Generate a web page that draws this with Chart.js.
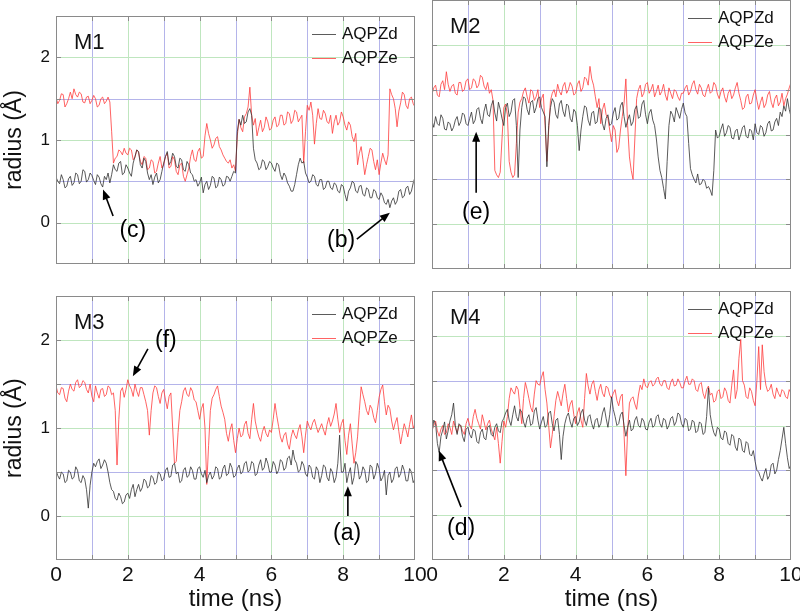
<!DOCTYPE html>
<html>
<head>
<meta charset="utf-8">
<script src="https://cdn.jsdelivr.net/npm/chart.js@4.4.0/dist/chart.umd.min.js"></script>
<style>
  html, body { margin: 0; padding: 0; background: #fff; }
  body { width: 800px; height: 615px; overflow: hidden; position: relative; }
  canvas { position: absolute; }
</style>
</head>
<body>
<canvas id="m1" width="420" height="280" style="left:0;top:0"></canvas>
<canvas id="m2" width="400" height="280" style="left:420px;top:0"></canvas>
<canvas id="m3" width="440" height="335" style="left:0;top:280px"></canvas>
<canvas id="m4" width="400" height="335" style="left:420px;top:280px"></canvas>
<script>
// samples every 0.05 ns, 0 .. 10 ns (one row = one ns)
var timeStep = 0.05;
var xTickLabels = [0, 2, 4, 6, 8, 10];
var yTickLabels = [0, 1, 2];
var seriesNames = ['AQPZd', 'AQPZe'];

// M1
var m1Zd = [
  0.55,0.50,0.47,0.58,0.52,0.42,0.44,0.53,0.56,0.45,0.48,0.60,0.58,0.47,0.50,0.64,0.62,0.49,0.52,0.60,
  0.57,0.51,0.46,0.58,0.55,0.47,0.43,0.56,0.52,0.60,0.48,0.58,0.70,0.64,0.62,0.72,0.74,0.58,0.60,0.70,
  0.66,0.60,0.56,0.72,0.80,0.88,0.86,0.70,0.66,0.78,0.74,0.60,0.52,0.58,0.46,0.55,0.60,0.48,0.52,0.62,
  0.72,0.80,0.86,0.70,0.74,0.84,0.80,0.68,0.66,0.78,0.76,0.64,0.62,0.74,0.70,0.60,0.58,0.50,0.52,0.44,
  0.48,0.55,0.36,0.46,0.50,0.40,0.45,0.56,0.54,0.42,0.44,0.55,0.52,0.44,0.46,0.56,0.55,0.50,0.56,0.62,
  0.60,1.10,1.25,1.18,1.30,1.20,1.22,1.34,1.38,1.30,0.90,0.76,0.72,0.64,0.66,0.76,0.74,0.64,0.68,0.74,
  0.72,0.66,0.62,0.72,0.70,0.58,0.52,0.60,0.56,0.48,0.44,0.38,0.38,0.46,0.58,0.70,0.78,0.72,0.74,0.60,
  0.55,0.48,0.50,0.58,0.56,0.46,0.44,0.52,0.52,0.40,0.42,0.50,0.50,0.42,0.40,0.48,0.46,0.38,0.36,0.46,
  0.44,0.34,0.26,0.38,0.42,0.50,0.48,0.38,0.36,0.44,0.45,0.34,0.32,0.42,0.40,0.30,0.30,0.40,0.38,0.30,
  0.28,0.36,0.32,0.24,0.22,0.28,0.18,0.26,0.30,0.22,0.26,0.38,0.40,0.30,0.32,0.42,0.44,0.34,0.38,0.48,
  0.55];
var m1Ze = [
  1.52,1.44,1.48,1.56,1.55,1.40,1.44,1.50,1.58,1.50,1.62,1.55,1.52,1.58,1.56,1.46,1.45,1.52,1.53,1.44,
  1.48,1.54,1.50,1.40,1.42,1.50,1.52,1.44,1.47,1.52,1.46,1.10,0.72,0.78,0.80,0.88,0.86,0.82,0.90,0.84,
  0.82,0.90,0.88,0.76,0.79,0.88,0.85,0.74,0.70,0.80,0.78,0.64,0.66,0.76,0.74,0.60,0.62,0.72,0.80,0.66,
  0.70,0.80,0.84,0.66,0.68,0.80,0.76,0.62,0.58,0.70,0.72,0.56,0.50,0.58,0.66,0.80,0.88,0.76,0.74,0.86,
  0.90,0.78,0.80,1.05,1.20,1.08,1.00,0.90,0.94,1.02,1.04,0.92,0.88,0.82,0.78,0.74,0.72,0.76,0.66,0.70,
  0.62,1.05,1.25,1.15,1.10,1.28,1.32,1.40,1.64,1.30,1.18,1.26,1.05,1.15,1.24,1.10,1.15,1.28,1.22,1.12,
  1.14,1.24,1.28,1.16,1.18,1.30,1.30,1.18,1.20,1.34,1.32,1.20,1.24,1.36,1.34,1.22,1.26,1.30,0.72,1.10,
  1.42,1.36,1.46,1.30,0.95,1.20,1.38,1.26,1.25,1.36,1.32,1.22,1.20,1.30,1.08,1.22,1.30,1.18,1.22,1.34,
  1.28,1.18,1.12,1.22,1.18,1.04,0.98,1.08,0.70,0.84,0.92,0.76,0.58,0.70,0.80,0.90,0.88,0.74,0.64,0.76,
  0.58,0.72,0.84,0.76,0.70,0.82,1.62,1.55,1.50,1.38,1.16,1.35,1.45,1.58,1.55,1.42,1.38,1.50,1.52,1.44,
  1.40];

// M2
var m2Zd = [
  1.15,1.08,1.20,1.12,1.10,1.22,1.18,1.06,1.05,1.14,1.12,1.04,1.08,1.16,1.20,1.10,1.14,1.24,1.22,1.12,
  1.10,1.18,1.25,1.12,1.16,1.28,1.30,1.18,1.12,1.26,1.34,1.22,1.20,1.32,1.38,1.24,1.15,1.36,1.28,1.18,
  1.10,1.30,1.35,1.20,1.25,1.38,1.40,1.10,0.52,1.05,1.30,1.42,1.40,1.28,1.22,1.36,1.38,1.24,1.30,1.40,
  1.42,1.30,1.25,1.20,0.64,1.10,1.30,1.40,1.36,1.22,1.18,1.34,1.38,1.26,1.20,1.34,1.32,1.18,1.14,1.28,
  1.25,1.10,0.82,1.05,1.20,1.32,1.30,1.16,1.10,1.24,1.26,1.12,1.14,1.30,1.28,1.12,1.05,1.18,1.22,1.10,
  1.12,1.24,1.30,1.16,1.18,1.32,1.36,1.20,1.08,1.16,1.22,1.10,1.14,1.28,1.32,1.18,1.20,1.34,1.38,1.22,
  1.12,1.24,1.28,1.16,1.10,0.95,0.75,0.60,0.52,0.40,0.28,0.70,1.10,1.26,1.22,1.14,1.30,1.24,1.18,1.28,
  1.35,1.24,1.20,0.90,0.62,0.55,0.50,0.46,0.56,0.44,0.45,0.50,0.48,0.40,0.42,0.38,0.32,0.60,1.05,0.96,
  0.98,1.06,1.12,0.98,1.02,1.10,1.08,0.96,0.95,1.04,1.06,0.94,1.00,1.08,1.10,0.98,0.96,1.06,1.04,0.94,
  1.12,1.02,1.00,1.10,1.08,0.98,1.02,1.12,1.15,1.04,1.05,1.14,1.18,1.10,1.25,1.20,1.32,1.26,1.40,1.28,
  1.20];
var m2Ze = [
  1.45,1.52,1.55,1.44,1.42,1.56,1.60,1.50,1.70,1.56,1.48,1.54,1.56,1.46,1.44,1.58,1.58,1.48,1.50,1.60,
  1.62,1.50,1.52,1.62,1.60,1.52,1.55,1.66,1.64,1.54,1.50,1.58,1.46,1.50,1.38,0.60,0.55,0.52,0.58,0.95,
  1.30,1.34,1.22,0.70,0.58,0.52,0.55,0.90,1.25,1.36,1.40,1.48,1.52,1.42,1.35,1.50,1.48,1.38,1.42,1.50,
  1.30,1.40,1.45,1.10,0.70,1.05,1.38,1.46,1.50,1.42,1.56,1.48,1.44,1.54,1.58,1.46,1.50,1.58,1.54,1.44,
  1.46,1.56,1.60,1.48,1.52,1.64,1.62,1.55,1.76,1.62,1.55,1.42,1.30,1.40,1.12,1.28,1.35,1.22,1.18,1.05,
  0.92,1.10,1.05,0.80,0.85,1.05,1.20,1.35,1.62,1.10,0.75,0.60,0.50,0.95,1.40,1.50,1.55,1.42,1.46,1.56,
  1.58,1.46,1.50,1.56,1.42,1.48,1.55,1.44,1.48,1.56,1.44,1.38,1.52,1.46,1.40,1.50,1.48,1.42,1.38,1.46,
  1.46,1.52,1.55,1.44,1.48,1.56,1.60,1.50,1.45,1.56,1.52,1.44,1.42,1.50,1.56,1.46,1.48,1.58,1.55,1.45,
  1.40,1.48,1.52,1.42,1.36,1.46,1.50,1.40,1.44,1.52,1.58,1.46,1.38,1.28,1.30,1.42,1.45,1.34,1.35,1.44,
  1.50,1.38,1.28,1.36,1.42,1.30,1.34,1.44,1.48,1.36,1.30,1.40,1.44,1.32,1.36,1.46,1.32,1.40,1.45,1.52,
  1.58];

// M3
var m3Zd = [
  0.52,0.46,0.42,0.50,0.48,0.38,0.40,0.52,0.50,0.42,0.44,0.56,0.52,0.40,0.38,0.46,0.42,0.30,0.09,0.35,
  0.50,0.60,0.56,0.62,0.65,0.54,0.58,0.64,0.60,0.50,0.38,0.30,0.28,0.20,0.18,0.26,0.22,0.14,0.16,0.24,
  0.26,0.20,0.30,0.36,0.22,0.30,0.36,0.28,0.32,0.42,0.40,0.32,0.34,0.46,0.44,0.36,0.38,0.50,0.48,0.40,
  0.42,0.52,0.55,0.44,0.45,0.58,0.60,0.48,0.50,0.38,0.40,0.52,0.55,0.44,0.46,0.56,0.52,0.42,0.42,0.54,
  0.56,0.48,0.44,0.52,0.38,0.46,0.50,0.42,0.46,0.56,0.54,0.42,0.44,0.54,0.58,0.46,0.48,0.60,0.55,0.44,
  0.46,0.54,0.58,0.48,0.50,0.60,0.62,0.50,0.52,0.62,0.60,0.46,0.48,0.58,0.64,0.52,0.55,0.66,0.60,0.50,
  0.50,0.62,0.58,0.48,0.52,0.64,0.62,0.52,0.55,0.66,0.68,0.58,0.75,0.64,0.60,0.50,0.52,0.62,0.58,0.48,
  0.45,0.58,0.55,0.44,0.42,0.56,0.52,0.38,0.46,0.58,0.56,0.44,0.40,0.54,0.50,0.38,0.44,0.60,0.92,0.50,
  0.50,0.60,0.38,0.48,0.55,0.36,0.44,0.62,0.58,0.42,0.46,0.56,0.52,0.38,0.40,0.58,0.56,0.42,0.48,0.60,
  0.54,0.40,0.44,0.52,0.24,0.46,0.50,0.38,0.42,0.54,0.56,0.44,0.48,0.58,0.52,0.40,0.40,0.54,0.50,0.38,
  0.42];
var m3Ze = [
  1.48,1.40,1.38,1.46,1.45,1.34,1.30,1.42,1.50,1.44,1.42,1.52,1.55,1.46,1.48,1.54,1.52,1.44,1.40,1.50,
  1.36,1.30,1.48,1.40,1.34,1.44,1.45,1.36,1.38,1.48,1.46,1.38,1.40,1.20,0.58,1.10,1.42,1.46,1.35,1.44,
  1.55,1.48,1.44,1.36,1.50,1.42,1.36,1.46,1.46,1.38,1.30,1.20,0.92,1.20,1.40,1.48,1.46,1.36,1.28,1.40,
  1.44,1.32,1.22,1.36,1.40,1.00,0.60,0.62,0.95,1.20,1.30,1.42,1.46,1.38,1.36,1.46,1.42,1.32,1.30,1.20,
  1.10,1.22,1.28,1.00,0.36,0.80,1.20,1.34,1.38,1.44,1.48,1.36,1.25,1.18,1.10,0.94,0.85,0.98,1.05,0.86,
  0.72,0.88,1.00,0.90,0.92,1.04,1.08,0.94,0.88,1.10,1.28,1.08,0.98,0.90,0.85,0.96,1.02,0.94,0.90,0.98,
  0.95,1.10,1.28,1.14,1.02,0.90,0.84,0.92,0.95,0.82,0.76,0.90,0.98,0.92,0.88,0.98,1.04,0.90,0.72,0.92,
  1.08,1.02,0.98,1.06,1.10,1.02,0.95,1.00,1.05,0.98,0.92,1.04,1.12,1.02,1.08,1.16,1.28,1.10,0.95,1.05,
  1.10,0.86,0.70,0.92,1.05,0.82,0.60,0.72,0.90,1.20,1.47,1.38,1.30,1.20,1.15,1.26,1.22,1.12,1.06,1.20,
  1.35,1.44,1.49,1.30,1.15,1.26,1.22,1.08,0.98,1.06,1.12,0.96,0.82,0.94,1.05,0.98,0.90,1.04,1.15,1.00,
  1.05];

// M4
var m4Zd = [
  0.92,1.06,1.02,0.80,0.70,0.88,0.95,1.04,0.85,0.94,1.05,1.12,1.25,1.00,0.90,1.02,1.00,0.88,0.82,0.96,
  0.98,0.90,0.86,0.96,0.94,0.82,0.80,0.92,0.96,0.86,0.84,0.98,1.00,0.90,0.88,0.98,1.02,0.94,0.92,1.04,
  1.08,1.14,1.18,1.06,1.00,1.12,1.22,1.10,1.05,1.18,1.15,1.04,0.98,1.08,1.12,1.00,1.02,1.16,1.20,1.06,
  0.96,1.04,1.10,0.98,1.00,1.14,1.16,1.02,0.94,1.06,1.08,0.90,0.62,0.88,1.02,1.10,1.14,1.04,0.98,1.08,
  1.10,1.00,1.04,1.14,1.18,1.06,1.00,1.10,1.12,1.02,0.96,1.06,1.08,0.98,1.02,1.14,1.20,1.08,0.98,1.12,
  1.32,1.18,1.10,1.00,1.02,1.12,1.15,1.00,0.88,0.98,1.06,0.94,0.96,1.06,1.10,1.00,0.98,1.08,1.05,0.96,
  0.95,1.04,1.08,0.98,1.00,1.10,1.12,1.02,0.98,1.08,1.06,0.96,1.00,1.08,1.10,1.00,1.04,1.14,1.12,1.02,
  0.98,1.08,1.06,0.94,0.96,1.06,1.04,0.92,0.94,1.04,1.02,0.90,0.92,1.10,1.42,1.12,1.00,0.92,0.88,0.98,
  0.96,0.86,0.84,0.94,0.92,0.80,0.78,0.90,0.88,0.76,0.72,0.86,0.84,0.72,0.70,0.82,0.80,0.68,0.66,0.72,
  0.60,0.50,0.48,0.42,0.38,0.46,0.52,0.40,0.44,0.56,0.58,0.46,0.50,0.62,0.72,0.85,0.98,0.80,0.64,0.52,
  0.56];
var m4Ze = [
  0.95,1.00,1.05,0.94,0.88,0.96,1.00,0.90,0.92,1.02,0.98,0.90,1.05,0.98,0.92,1.00,1.00,0.94,0.90,1.02,
  1.08,1.00,0.96,1.10,1.18,1.08,1.02,0.96,1.12,1.04,0.95,1.02,1.06,0.96,0.90,0.84,0.98,0.80,0.58,0.82,
  1.05,0.98,1.10,1.30,1.42,1.38,1.35,1.44,1.40,1.20,1.02,1.30,1.48,1.40,1.30,1.20,1.15,1.35,1.50,1.46,
  1.45,1.54,1.60,1.40,1.25,1.00,0.75,0.90,1.10,1.28,1.38,1.30,1.22,1.36,1.46,1.30,1.15,1.24,1.28,1.12,
  1.02,1.14,1.20,1.06,0.98,1.30,1.58,1.44,1.35,1.46,1.50,1.38,1.28,1.40,1.46,1.36,1.32,1.44,1.42,1.34,
  1.30,1.36,1.40,1.28,1.22,1.32,1.35,0.90,0.44,0.95,1.25,1.30,1.32,1.24,1.18,1.34,1.45,1.40,1.52,1.44,
  1.42,1.48,1.50,1.44,1.46,1.52,1.54,1.46,1.44,1.50,1.50,1.42,1.40,1.48,1.52,1.44,1.45,1.52,1.48,1.42,
  1.42,1.50,1.55,1.46,1.46,1.52,1.50,1.40,1.38,1.46,1.48,1.36,1.30,1.40,1.44,1.34,1.36,1.26,1.28,1.38,
  1.40,1.30,1.32,1.42,1.38,1.28,1.25,1.45,1.62,1.30,1.40,1.75,1.96,1.50,1.45,1.32,1.30,1.42,1.38,1.28,
  1.22,1.50,1.88,1.40,1.90,1.60,1.45,1.38,1.40,1.46,1.35,1.30,1.42,1.36,1.32,1.40,1.38,1.32,1.30,1.40,
  1.36];

var FONT = "'Liberation Sans', Arial, sans-serif";
var GREEN = '#bfe6bf';
var BLUE = '#b4b4ea';
var FRAME = '#8a8a8a';
var ZD_COLOR = 'rgba(50,50,50,0.8)';
var ZE_COLOR = 'rgba(255,60,60,0.8)';
var seriesColors = [ZD_COLOR, ZE_COLOR];

function toPoints(arr) {
  return arr.map(function (v, i) {
    return { x: Math.round(i * timeStep * 100) / 100, y: v };
  });
}

function near(a, b) { return Math.abs(a - b) < 1e-6; }

function drawArrow(c, x1, y1, x2, y2) {
  var ang = Math.atan2(y2 - y1, x2 - x1), L = 10, W = 4;
  c.beginPath();
  c.moveTo(x1, y1);
  c.lineTo(x2 - L * 0.7 * Math.cos(ang), y2 - L * 0.7 * Math.sin(ang));
  c.stroke();
  c.beginPath();
  c.moveTo(x2, y2);
  c.lineTo(x2 - L * Math.cos(ang) + W * Math.sin(ang), y2 - L * Math.sin(ang) - W * Math.cos(ang));
  c.lineTo(x2 - L * Math.cos(ang) - W * Math.sin(ang), y2 - L * Math.sin(ang) + W * Math.cos(ang));
  c.closePath();
  c.fill();
}

// coloured grid under the data; frame, inner ticks, name, legend and notes on top
var panelDecor = {
  id: 'panelDecor',
  beforeDatasetsDraw: function (chart) {
    var c = chart.ctx, a = chart.chartArea, xs = chart.scales.x, ys = chart.scales.y;
    c.save();
    c.lineWidth = 1;
    xs.ticks.forEach(function (tk) {
      var v = tk.value;
      if (near(v, xs.min) || near(v, xs.max)) return;
      var px = Math.round(xs.getPixelForValue(v)) + 0.5;
      c.strokeStyle = Math.round(v) % 2 === 0 ? GREEN : BLUE;
      c.beginPath(); c.moveTo(px, a.top); c.lineTo(px, a.bottom); c.stroke();
    });
    ys.ticks.forEach(function (tk) {
      var v = tk.value;
      if (near(v, ys.min) || near(v, ys.max)) return;
      var py = Math.round(ys.getPixelForValue(v)) + 0.5;
      c.strokeStyle = near(v, Math.round(v)) ? GREEN : BLUE;
      c.beginPath(); c.moveTo(a.left, py); c.lineTo(a.right, py); c.stroke();
    });
    c.restore();
  },
  afterDatasetsDraw: function (chart, args, opts) {
    var c = chart.ctx, a = chart.chartArea, xs = chart.scales.x, ys = chart.scales.y;
    var L = Math.round(a.left), T = Math.round(a.top), R = Math.round(a.right), B = Math.round(a.bottom);
    c.save();
    c.strokeStyle = FRAME;
    c.lineWidth = 1;
    c.strokeRect(L + 0.5, T + 0.5, R - L - 1, B - T - 1);
    c.beginPath();
    for (var t = 1; t < 10; t++) {
      var px = Math.round(xs.getPixelForValue(t)) + 0.5;
      c.moveTo(px, T); c.lineTo(px, T + 5);
      c.moveTo(px, B); c.lineTo(px, B - 5);
    }
    for (var v = 0; v <= 2; v += 0.5) {
      var py = Math.round(ys.getPixelForValue(v)) + 0.5;
      c.moveTo(L, py); c.lineTo(L + 5, py);
      c.moveTo(R, py); c.lineTo(R - 5, py);
    }
    c.stroke();

    // panel name
    c.fillStyle = '#111';
    c.font = '22px ' + FONT;
    c.textAlign = 'left';
    c.textBaseline = 'middle';
    c.fillText(opts.name, L + 18, T + 27);

    // legend
    c.font = '17px ' + FONT;
    seriesNames.forEach(function (name, i) {
      var ly = T + 18 + 24 * i + 0.5;
      c.strokeStyle = seriesColors[i];
      c.lineWidth = 1;
      c.beginPath();
      c.moveTo(R - 103, ly); c.lineTo(R - 79, ly);
      c.stroke();
      c.fillStyle = '#111';
      c.fillText(name, R - 73, ly);
    });

    // notes
    c.strokeStyle = '#000';
    c.fillStyle = '#000';
    c.lineWidth = 1.6;
    c.font = '23px ' + FONT;
    c.textAlign = 'center';
    (opts.notes || []).forEach(function (n) {
      c.fillText(n.text, xs.getPixelForValue(n.x), ys.getPixelForValue(n.y));
      drawArrow(c, xs.getPixelForValue(n.fromX), ys.getPixelForValue(n.fromY),
        xs.getPixelForValue(n.toX), ys.getPixelForValue(n.toY));
    });
    c.restore();
  }
};

function makePanel(id, p) {
  return new Chart(document.getElementById(id), {
    type: 'line',
    data: {
      datasets: [{
        label: seriesNames[0],
        data: toPoints(p.zd),
        borderColor: seriesColors[0],
        borderWidth: 1,
        pointRadius: 0,
        tension: 0
      }, {
        label: seriesNames[1],
        data: toPoints(p.ze),
        borderColor: seriesColors[1],
        borderWidth: 1,
        pointRadius: 0,
        tension: 0
      }]
    },
    options: {
      responsive: false,
      animation: false,
      devicePixelRatio: 1,
      layout: { padding: p.pad },
      plugins: {
        legend: { display: false },
        tooltip: { enabled: false },
        panelDecor: { name: p.name, notes: p.notes }
      },
      scales: {
        x: {
          type: 'linear',
          min: 0,
          max: 10,
          border: { display: false },
          grid: { display: false, drawTicks: false },
          ticks: {
            display: p.showX,
            stepSize: 1,
            autoSkip: false,
            maxRotation: 0,
            padding: 3,
            color: '#111',
            font: { size: 21, family: FONT },
            callback: function (v) { return xTickLabels.indexOf(v) >= 0 ? String(v) : ''; }
          },
          title: {
            display: p.showX,
            text: 'time (ns)',
            color: '#111',
            font: { size: 24, family: FONT },
            padding: { top: 0, bottom: 1 }
          },
          afterFit: function (s) { s.height = p.xh; }
        },
        y: {
          min: -0.5,
          max: 2.5,
          border: { display: false },
          grid: { display: false, drawTicks: false },
          ticks: {
            display: p.showY,
            stepSize: 0.5,
            autoSkip: false,
            padding: 6,
            color: '#111',
            font: { size: 17, family: FONT },
            callback: function (v) { return yTickLabels.indexOf(v) >= 0 ? String(v) : ''; }
          },
          title: {
            display: p.showY,
            text: 'radius (Å)',
            color: '#111',
            font: { size: 23, family: FONT },
            padding: { top: 1, bottom: 0 }
          },
          afterFit: function (s) { s.width = p.yw; }
        }
      }
    },
    plugins: [panelDecor]
  });
}

makePanel('m1', {
  name: 'M1', zd: m1Zd, ze: m1Ze, showX: false, showY: true,
  yw: 56, xh: 11, pad: { left: 0, right: 5, top: 0, bottom: 0 },
  notes: [
    { text: '(c)', x: 2.14, y: -0.1, fromX: 1.59, fromY: 0.08, toX: 1.31, toY: 0.40 },
    { text: '(b)', x: 7.94, y: -0.22, fromX: 8.38, fromY: -0.2, toX: 9.30, toY: 0.12 }
  ]
});
makePanel('m2', {
  name: 'M2', zd: m2Zd, ze: m2Ze, showX: false, showY: false,
  yw: 0, xh: 11, pad: { left: 12, right: 29, top: 0, bottom: 0 },
  notes: [
    { text: '(e)', x: 1.23, y: 0.13, fromX: 1.23, fromY: 0.35, toX: 1.23, toY: 1.03 }
  ]
});
makePanel('m3', {
  name: 'M3', zd: m3Zd, ze: m3Ze, showX: true, showY: true,
  yw: 56, xh: 55, pad: { left: 0, right: 25, top: 11, bottom: 0 },
  notes: [
    { text: '(f)', x: 3.06, y: 1.99, fromX: 2.56, fromY: 1.90, toX: 2.14, toY: 1.59 },
    { text: '(a)', x: 8.11, y: -0.2, fromX: 8.13, fromY: 0.0, toX: 8.13, toY: 0.34 }
  ]
});
makePanel('m4', {
  name: 'M4', zd: m4Zd, ze: m4Ze, showX: true, showY: false,
  yw: 0, xh: 55, pad: { left: 12, right: 29, top: 11, bottom: 0 },
  notes: [
    { text: '(d)', x: 0.81, y: -0.15, fromX: 0.81, fromY: 0.09, toX: 0.19, toY: 0.72 }
  ]
});
</script>
</body>
</html>
